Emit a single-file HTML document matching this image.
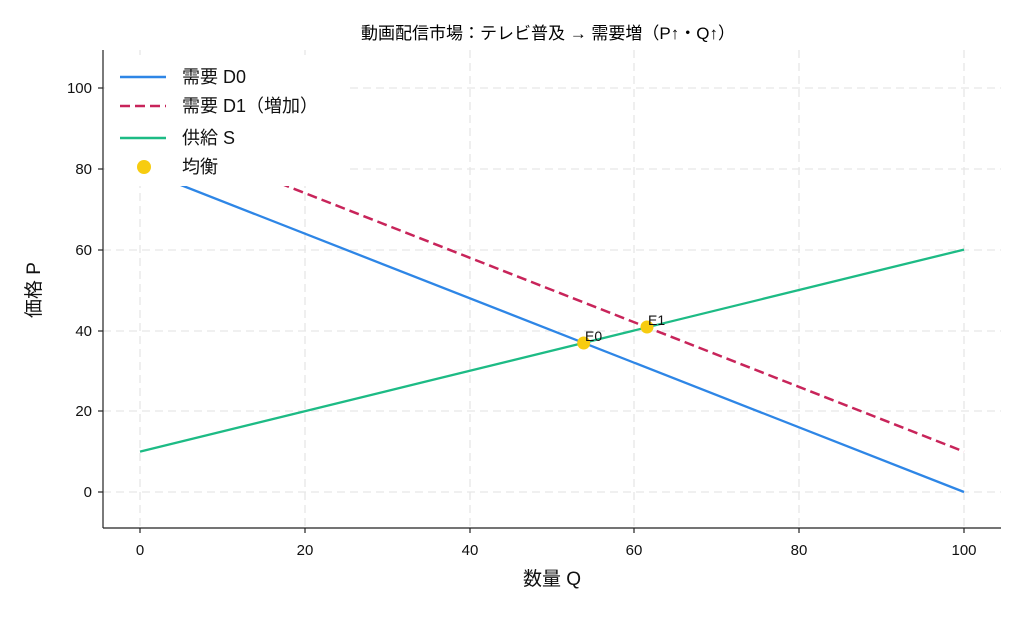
<!DOCTYPE html>
<html><head><meta charset="utf-8"><style>
html,body{margin:0;padding:0;background:#fff;}
svg text{font-family:"Liberation Sans","Noto Sans CJK JP",sans-serif;fill:#111;}
</style></head><body>
<svg width="1024" height="615" viewBox="0 0 1024 615" xmlns="http://www.w3.org/2000/svg">
<g stroke="#e6e6e6" stroke-width="1.3" stroke-dasharray="8,5">
<line x1="140" y1="50" x2="140" y2="528"/><line x1="305" y1="50" x2="305" y2="528"/>
<line x1="470" y1="50" x2="470" y2="528"/><line x1="634" y1="50" x2="634" y2="528"/>
<line x1="799" y1="50" x2="799" y2="528"/><line x1="964" y1="50" x2="964" y2="528"/>
<line x1="103" y1="492" x2="1001" y2="492"/><line x1="103" y1="411" x2="1001" y2="411"/>
<line x1="103" y1="331" x2="1001" y2="331"/><line x1="103" y1="250" x2="1001" y2="250"/>
<line x1="103" y1="169" x2="1001" y2="169"/><line x1="103" y1="88" x2="1001" y2="88"/>
</g>
<g stroke="#222" stroke-width="1.2">
<line x1="103" y1="50" x2="103" y2="528"/><line x1="103" y1="528" x2="1001" y2="528"/>
<line x1="140" y1="528" x2="140" y2="533"/><line x1="305" y1="528" x2="305" y2="533"/><line x1="470" y1="528" x2="470" y2="533"/><line x1="634" y1="528" x2="634" y2="533"/><line x1="799" y1="528" x2="799" y2="533"/><line x1="964" y1="528" x2="964" y2="533"/>
<line x1="98" y1="492" x2="103" y2="492"/><line x1="98" y1="411" x2="103" y2="411"/><line x1="98" y1="331" x2="103" y2="331"/><line x1="98" y1="250" x2="103" y2="250"/><line x1="98" y1="169" x2="103" y2="169"/><line x1="98" y1="88" x2="103" y2="88"/>
</g>
<g font-size="15" text-anchor="middle">
<text x="140" y="555">0</text><text x="305" y="555">20</text><text x="470" y="555">40</text><text x="634" y="555">60</text><text x="799" y="555">80</text><text x="964" y="555">100</text>
</g>
<g font-size="15" text-anchor="end">
<text x="92" y="497">0</text><text x="92" y="416">20</text><text x="92" y="336">40</text><text x="92" y="255">60</text><text x="92" y="174">80</text><text x="92" y="93">100</text>
</g>
<text x="552" y="585" font-size="19" text-anchor="middle">数量 Q</text>
<text transform="translate(40,290) rotate(-90)" font-size="19" text-anchor="middle">価格 P</text>
<text x="548" y="39" font-size="17" text-anchor="middle" style="fill:#000">動画配信市場：テレビ普及 → 需要増（P↑・Q↑）</text>
<line x1="140" y1="169" x2="964" y2="492" stroke="#2e86e6" stroke-width="2.3"/>
<line x1="140" y1="128.4" x2="964" y2="451.6" stroke="#c8245a" stroke-width="2.5" stroke-dasharray="10,5"/>
<line x1="140" y1="451.6" x2="964" y2="249.6" stroke="#1dbb85" stroke-width="2.3"/>
<rect x="105" y="55" width="240" height="131" fill="#fff"/>
<circle cx="583.7" cy="343" r="6.5" fill="#f7cc10"/>
<circle cx="647" cy="327" r="6.5" fill="#f7cc10"/>
<text x="585" y="341" font-size="14">E0</text>
<text x="648" y="325" font-size="14">E1</text>
<g font-size="18">
<line x1="120" y1="77" x2="166" y2="77" stroke="#2e86e6" stroke-width="2.5"/><text x="182" y="83">需要 D0</text>
<line x1="120" y1="106" x2="166" y2="106" stroke="#c8245a" stroke-width="2.5" stroke-dasharray="10,5"/><text x="182" y="112">需要 D1（増加）</text>
<line x1="120" y1="138" x2="166" y2="138" stroke="#1dbb85" stroke-width="2.5"/><text x="182" y="144">供給 S</text>
<circle cx="144" cy="167" r="7" fill="#f7cc10"/><text x="182" y="173">均衡</text>
</g>
</svg>
</body></html>
